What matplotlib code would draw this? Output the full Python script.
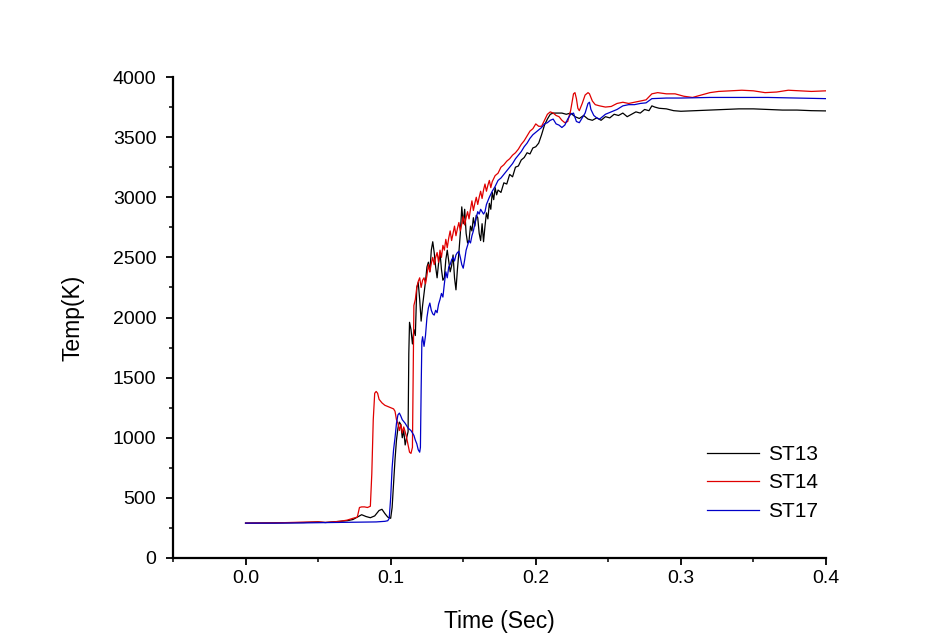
import matplotlib
matplotlib.use("Agg")
import matplotlib.pyplot as plt
import matplotlib.ticker as ticker

plt.rcParams["font.family"] = ["Liberation Sans", "DejaVu Sans"]

# (time in s, temperature in K)
st13 = [
    (0.000, 290), (0.020, 292), (0.040, 295), (0.050, 300), (0.055, 295), (0.060, 300),
    (0.065, 305), (0.070, 310), (0.074, 320), (0.077, 340), (0.080, 360), (0.083, 345),
    (0.086, 335), (0.089, 350), (0.092, 395), (0.094, 405), (0.096, 370), (0.098, 340),
    (0.100, 330), (0.101, 420), (0.102, 620), (0.103, 820), (0.104, 980), (0.105, 1080),
    (0.106, 1130), (0.107, 1110), (0.108, 1000), (0.109, 1060), (0.110, 940), (0.111, 1000),
    (0.112, 1050), (0.1125, 1700), (0.113, 1960), (0.114, 1900), (0.115, 1780), (0.116, 1900),
    (0.117, 1850), (0.118, 2250), (0.119, 2290), (0.120, 2150), (0.121, 1970), (0.122, 2100),
    (0.123, 2200), (0.124, 2300), (0.125, 2420), (0.126, 2460), (0.127, 2380), (0.128, 2560),
    (0.129, 2630), (0.130, 2540), (0.131, 2420), (0.132, 2330), (0.133, 2450), (0.134, 2540),
    (0.135, 2400), (0.136, 2310), (0.137, 2330), (0.138, 2480), (0.139, 2560), (0.140, 2470),
    (0.141, 2380), (0.142, 2430), (0.143, 2520), (0.144, 2330), (0.145, 2230), (0.146, 2400),
    (0.147, 2540), (0.148, 2700), (0.149, 2920), (0.150, 2780), (0.151, 2900), (0.152, 2700),
    (0.153, 2620), (0.154, 2640), (0.155, 2760), (0.156, 2720), (0.157, 2830), (0.158, 2760),
    (0.159, 2850), (0.160, 2830), (0.161, 2700), (0.162, 2640), (0.163, 2780), (0.164, 2630),
    (0.165, 2760), (0.166, 2870), (0.167, 2820), (0.168, 2950), (0.169, 2900), (0.170, 3040),
    (0.171, 2980), (0.172, 3080), (0.173, 3020), (0.174, 3060), (0.176, 3040), (0.178, 3120),
    (0.180, 3110), (0.182, 3190), (0.184, 3170), (0.186, 3250), (0.188, 3260), (0.190, 3310),
    (0.192, 3330), (0.194, 3370), (0.196, 3360), (0.198, 3410), (0.200, 3420), (0.202, 3450),
    (0.204, 3520), (0.206, 3600), (0.208, 3650), (0.210, 3690), (0.212, 3700), (0.215, 3700),
    (0.218, 3700), (0.221, 3690), (0.224, 3700), (0.227, 3670), (0.230, 3655), (0.233, 3680),
    (0.236, 3650), (0.239, 3640), (0.242, 3660), (0.245, 3640), (0.248, 3670), (0.251, 3660),
    (0.254, 3690), (0.257, 3680), (0.260, 3700), (0.263, 3670), (0.266, 3690), (0.269, 3710),
    (0.272, 3700), (0.275, 3730), (0.278, 3720), (0.280, 3760), (0.282, 3750), (0.285, 3740),
    (0.290, 3735), (0.295, 3720), (0.300, 3715), (0.310, 3720), (0.320, 3725), (0.330, 3730),
    (0.340, 3735), (0.350, 3735), (0.360, 3730), (0.370, 3725), (0.380, 3725), (0.390, 3720),
    (0.400, 3718),
]

st14 = [
    (0.000, 290), (0.020, 292), (0.040, 298), (0.050, 300), (0.055, 296), (0.060, 300),
    (0.065, 305), (0.070, 315), (0.074, 330), (0.077, 340), (0.0785, 420), (0.080, 425),
    (0.082, 425), (0.084, 420), (0.086, 430), (0.087, 700), (0.088, 1150), (0.089, 1370),
    (0.090, 1385), (0.091, 1370), (0.092, 1320), (0.094, 1290), (0.096, 1270), (0.098, 1260),
    (0.100, 1250), (0.102, 1240), (0.103, 1220), (0.104, 1150), (0.105, 1120), (0.106, 1060),
    (0.107, 1110), (0.108, 1040), (0.109, 1090), (0.110, 1050), (0.111, 1000), (0.112, 940),
    (0.113, 880), (0.114, 870), (0.115, 920), (0.1155, 1500), (0.116, 2100), (0.117, 2150),
    (0.118, 2250), (0.119, 2300), (0.120, 2330), (0.121, 2250), (0.122, 2310), (0.123, 2330),
    (0.124, 2280), (0.125, 2350), (0.126, 2440), (0.127, 2380), (0.128, 2450), (0.129, 2500),
    (0.130, 2440), (0.131, 2500), (0.132, 2540), (0.133, 2460), (0.134, 2560), (0.135, 2500),
    (0.136, 2600), (0.137, 2560), (0.138, 2650), (0.139, 2580), (0.140, 2660), (0.141, 2720),
    (0.142, 2640), (0.143, 2700), (0.144, 2760), (0.145, 2680), (0.146, 2740), (0.147, 2790),
    (0.148, 2720), (0.149, 2780), (0.150, 2840), (0.151, 2770), (0.152, 2830), (0.153, 2880),
    (0.154, 2820), (0.155, 2900), (0.156, 2970), (0.157, 2890), (0.158, 2950), (0.159, 3000),
    (0.160, 2940), (0.161, 3000), (0.162, 3050), (0.163, 2990), (0.164, 3060), (0.165, 3110),
    (0.166, 3050), (0.167, 3100), (0.168, 3140), (0.169, 3080), (0.170, 3130), (0.172, 3180),
    (0.174, 3200), (0.176, 3250), (0.178, 3270), (0.180, 3300), (0.182, 3320), (0.184, 3350),
    (0.186, 3370), (0.188, 3400), (0.190, 3440), (0.192, 3470), (0.194, 3510), (0.196, 3550),
    (0.198, 3570), (0.200, 3610), (0.202, 3590), (0.204, 3590), (0.206, 3640), (0.208, 3690),
    (0.210, 3710), (0.212, 3700), (0.214, 3680), (0.216, 3670), (0.218, 3640), (0.220, 3620),
    (0.222, 3630), (0.224, 3720), (0.226, 3860), (0.227, 3870), (0.228, 3820), (0.229, 3740),
    (0.230, 3720), (0.232, 3780), (0.234, 3850), (0.236, 3870), (0.237, 3860), (0.239, 3800),
    (0.241, 3770), (0.244, 3760), (0.248, 3750), (0.252, 3755), (0.256, 3780), (0.260, 3790),
    (0.264, 3780), (0.268, 3790), (0.272, 3800), (0.276, 3810), (0.280, 3860), (0.284, 3870),
    (0.290, 3860), (0.296, 3860), (0.302, 3840), (0.308, 3830), (0.314, 3850), (0.320, 3870),
    (0.326, 3880), (0.334, 3885), (0.342, 3890), (0.350, 3885), (0.358, 3870), (0.366, 3875),
    (0.374, 3890), (0.382, 3885), (0.390, 3880), (0.400, 3885),
]

st17 = [
    (0.000, 290), (0.020, 290), (0.040, 292), (0.060, 295), (0.080, 298), (0.090, 300),
    (0.096, 305), (0.098, 310), (0.099, 330), (0.100, 500), (0.101, 750), (0.102, 900),
    (0.103, 1000), (0.104, 1120), (0.105, 1190), (0.106, 1205), (0.107, 1180), (0.108, 1150),
    (0.110, 1120), (0.112, 1080), (0.114, 1060), (0.116, 1020), (0.117, 980), (0.118, 950),
    (0.119, 900), (0.120, 880), (0.1205, 920), (0.121, 1400), (0.1215, 1800), (0.122, 1840),
    (0.123, 1760), (0.124, 1850), (0.125, 2000), (0.126, 2080), (0.127, 2120), (0.128, 2060),
    (0.129, 2030), (0.130, 2020), (0.131, 2060), (0.132, 2040), (0.133, 2110), (0.134, 2150),
    (0.135, 2200), (0.136, 2170), (0.137, 2280), (0.138, 2380), (0.139, 2330), (0.140, 2420),
    (0.141, 2440), (0.142, 2480), (0.143, 2500), (0.144, 2470), (0.145, 2520), (0.146, 2540),
    (0.147, 2550), (0.148, 2500), (0.149, 2440), (0.150, 2410), (0.151, 2480), (0.152, 2560),
    (0.153, 2600), (0.154, 2640), (0.155, 2620), (0.156, 2680), (0.157, 2720), (0.158, 2780),
    (0.159, 2830), (0.160, 2880), (0.161, 2860), (0.162, 2900), (0.163, 2880), (0.164, 2860),
    (0.165, 2880), (0.166, 2940), (0.168, 3000), (0.170, 3050), (0.172, 3090), (0.174, 3140),
    (0.176, 3160), (0.178, 3190), (0.180, 3220), (0.182, 3250), (0.184, 3280), (0.186, 3320),
    (0.188, 3350), (0.190, 3380), (0.192, 3420), (0.194, 3450), (0.196, 3490), (0.198, 3520),
    (0.200, 3540), (0.202, 3560), (0.204, 3580), (0.206, 3610), (0.208, 3620), (0.210, 3640),
    (0.212, 3650), (0.214, 3610), (0.216, 3600), (0.218, 3580), (0.220, 3600), (0.222, 3650),
    (0.224, 3690), (0.226, 3700), (0.228, 3630), (0.230, 3620), (0.232, 3660), (0.234, 3700),
    (0.236, 3780), (0.237, 3790), (0.238, 3730), (0.240, 3680), (0.242, 3660), (0.244, 3650),
    (0.248, 3690), (0.252, 3710), (0.256, 3730), (0.260, 3760), (0.264, 3770), (0.268, 3770),
    (0.272, 3780), (0.276, 3785), (0.280, 3820), (0.290, 3825), (0.300, 3825), (0.320, 3830),
    (0.340, 3830), (0.360, 3830), (0.380, 3825), (0.400, 3820),
]

series = [("ST13", st13, "#000000"), ("ST14", st14, "#e00000"), ("ST17", st17, "#0000c8")]

fig = plt.figure(figsize=(9.28, 6.44), dpi=100)
ax = fig.add_axes([173 / 928, 1 - 558 / 644, (826 - 173) / 928, (558 - 77) / 644])

for nome, dados, cor in series:
    t = [p[0] for p in dados]
    temp = [p[1] for p in dados]
    ax.plot(t, temp, color=cor, linewidth=0.9, label=nome)

ax.set_xlim(-0.05, 0.4)
ax.set_ylim(0, 4000)
ax.xaxis.set_major_locator(ticker.MultipleLocator(0.1))
ax.xaxis.set_minor_locator(ticker.MultipleLocator(0.05))
ax.yaxis.set_major_locator(ticker.MultipleLocator(500))
ax.yaxis.set_minor_locator(ticker.MultipleLocator(250))
ax.xaxis.set_major_formatter(ticker.FormatStrFormatter("%.1f"))

ax.spines["top"].set_visible(False)
ax.spines["right"].set_visible(False)
for lado in ["left", "bottom"]:
    ax.spines[lado].set_linewidth(1.6)

ax.tick_params(which="major", direction="out", length=5, width=1.3, labelsize=14)
ax.tick_params(which="minor", direction="out", length=3, width=1.1)
ax.tick_params(axis="y", which="major", pad=7)

ax.set_xlabel("Time (Sec)", fontsize=16.5, labelpad=17)
ax.set_ylabel("Temp(K)", fontsize=16.5, labelpad=20)

ax.legend(loc="lower right", bbox_to_anchor=(1.0, 0.06), frameon=False, fontsize=15,
          handlelength=2.5, handletextpad=0.4, labelspacing=0.45, borderaxespad=0)

fig.savefig("out.png", dpi=100)
